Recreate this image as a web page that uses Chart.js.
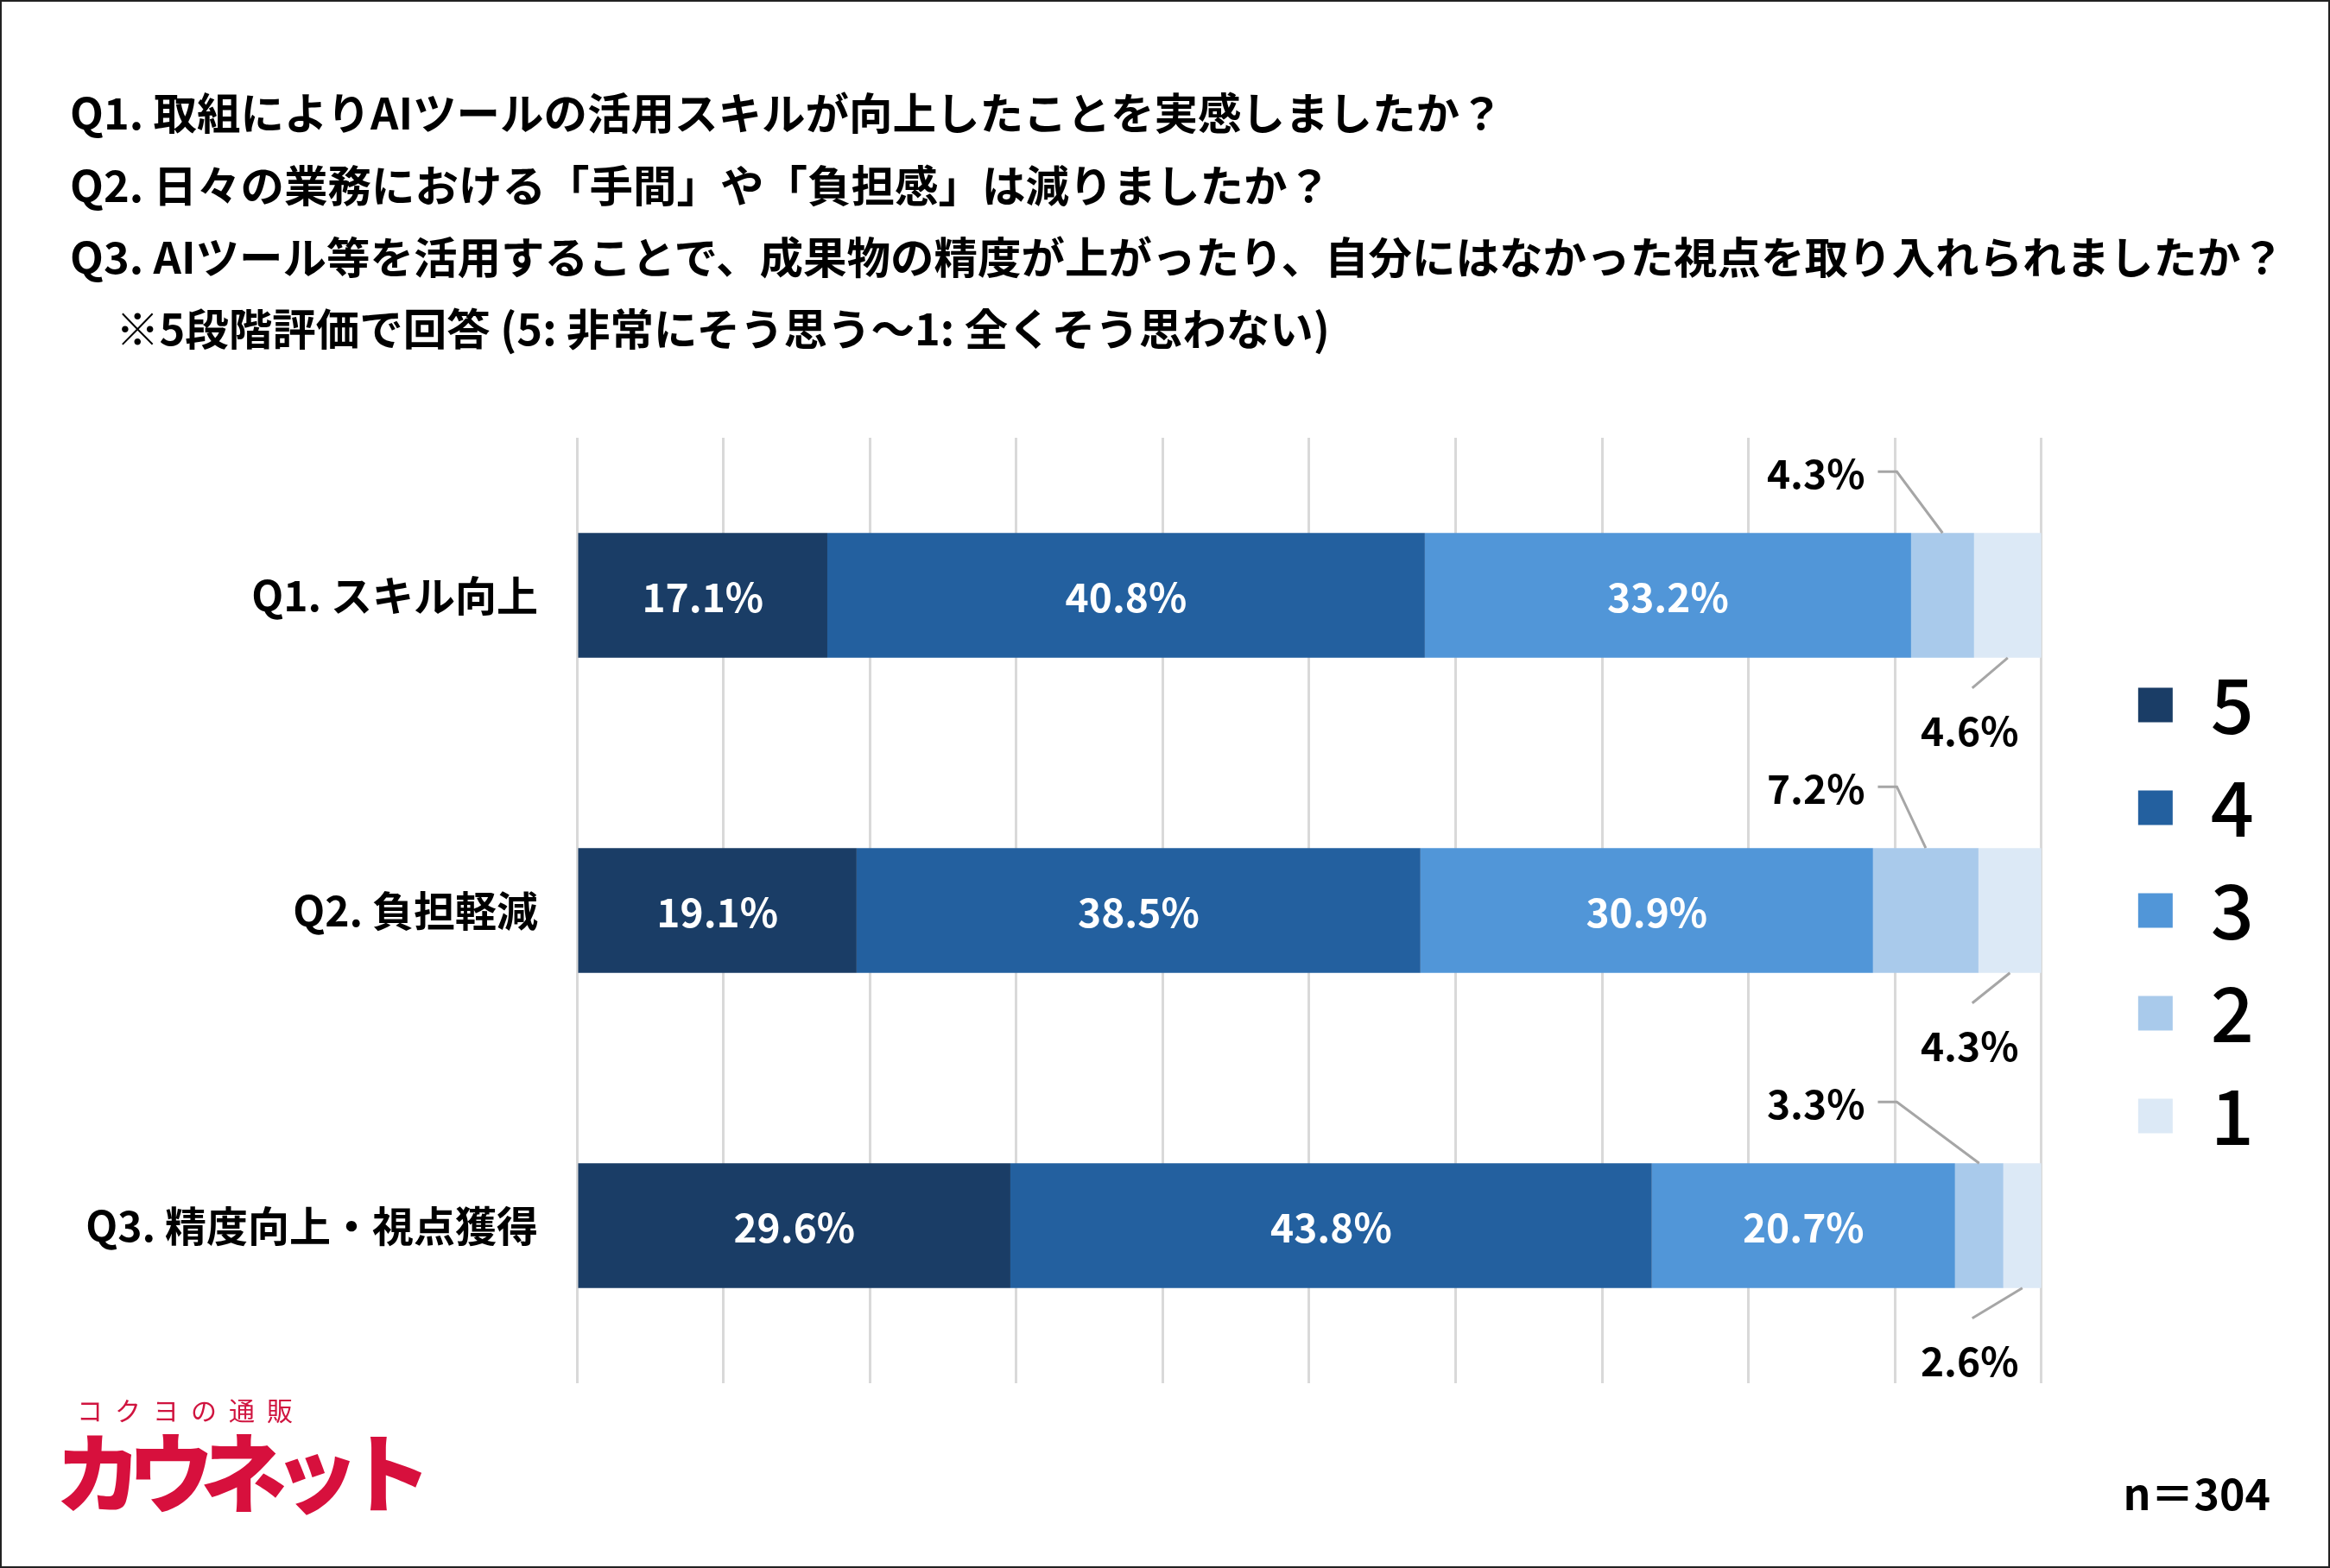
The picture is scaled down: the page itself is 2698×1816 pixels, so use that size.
<!DOCTYPE html>
<html><head><meta charset="utf-8">
<script src="https://cdn.jsdelivr.net/npm/chart.js@4.4.1/dist/chart.umd.min.js"></script>
<style>
html,body{margin:0;padding:0;background:#fff;}
#frame{position:relative;width:2698px;height:1816px;overflow:hidden;background:#fff;font-family:"Noto Sans CJK JP","Noto Sans",sans-serif;}
#c{position:absolute;left:0;top:0;}
.t{position:absolute;white-space:nowrap;font-weight:700;color:#000;font-size:50.5px;line-height:83.3px;}
#border{position:absolute;left:0;top:0;width:2698px;height:1816px;box-sizing:border-box;border:2px solid #222;pointer-events:none;}
</style></head><body>
<div id="frame">
  <div class="t" style="left:81px;top:87px;">Q1. 取組によりAIツールの活用スキルが向上したことを実感しましたか？</div>
  <div class="t" style="left:81px;top:171px;">Q2. 日々の業務における「手間」や「負担感」は減りましたか？</div>
  <div class="t" style="left:81px;top:254px;">Q3. AIツール等を活用することで、成果物の精度が上がったり、自分にはなかった視点を取り入れられましたか？</div>
  <div class="t" style="left:134px;top:337px;">※5段階評価で回答 (5: 非常にそう思う～1: 全くそう思わない)</div>
  <canvas id="c" width="2698" height="1816" style="width:2698px;height:1816px"></canvas>
  <div style="position:absolute;left:89px;top:1610px;font-size:30px;font-weight:400;letter-spacing:14px;color:#d0143f;white-space:nowrap;line-height:44px;">コクヨの通販</div>
  <div style="position:absolute;left:64px;top:1636px;font-size:100px;font-weight:900;letter-spacing:-16px;color:#d7103d;white-space:nowrap;line-height:130px;">カウネット</div>
  <div class="t" style="right:69px;left:auto;top:1685px;font-size:50px;line-height:84px;">n＝304</div>
  <div id="border"></div>
</div>
<script>
const categories = ['Q1. スキル向上', 'Q2. 負担軽減', 'Q3. 精度向上・視点獲得'];
const seriesLabels = ['5', '4', '3', '2', '1'];
const values5 = [17.1, 19.1, 29.6];
const values4 = [40.8, 38.5, 43.8];
const values3 = [33.2, 30.9, 20.7];
const values2 = [4.3, 7.2, 3.3];
const values1 = [4.6, 4.3, 2.6];
const seriesColors = ['#1a3d66', '#23609f', '#5196d8', '#a9caeb', '#dce9f6'];
const xMin = 0, xMax = 100, xStep = 10;

const FONT = '"Noto Sans CJK JP","Noto Sans",sans-serif';
const seriesValues = [values5, values4, values3, values2, values1];

const segLabels = {
  id: 'segLabels',
  afterDatasetsDraw(chart) {
    const ctx = chart.ctx;
    const xs = chart.scales.x;
    ctx.save();
    ctx.font = '700 46px ' + FONT;
    ctx.textBaseline = 'middle';
    chart.data.datasets.forEach((ds, di) => {
      const meta = chart.getDatasetMeta(di);
      meta.data.forEach((bar, i) => {
        const v = ds.data[i];
        const txt = v.toFixed(1) + '%';
        const p = bar.getProps(['x', 'y', 'base', 'height'], true);
        const cx = (p.x + p.base) / 2;
        const top = p.y - p.height / 2;
        const bottom = p.y + p.height / 2;
        if (di < 3) {
          ctx.fillStyle = '#ffffff';
          ctx.textAlign = 'center';
          ctx.fillText(txt, cx, p.y + 2);
        } else if (di === 3) {
          const lx = xs.getPixelForValue(84.6);
          const ly = top - 71;
          ctx.fillStyle = '#000';
          ctx.textAlign = 'center';
          ctx.fillText(txt, lx, ly + 2);
          const w = ctx.measureText(txt).width;
          ctx.strokeStyle = '#a6a6a6';
          ctx.lineWidth = 3;
          ctx.beginPath();
          ctx.moveTo(lx + w / 2 + 15, ly);
          ctx.lineTo(lx + w / 2 + 37, ly);
          ctx.lineTo(cx, top);
          ctx.stroke();
        } else {
          const lx = xs.getPixelForValue(95.1);
          const ly = bottom + 83;
          ctx.fillStyle = '#000';
          ctx.textAlign = 'center';
          ctx.fillText(txt, lx, ly + 2);
          ctx.strokeStyle = '#a6a6a6';
          ctx.lineWidth = 3;
          ctx.beginPath();
          ctx.moveTo(cx, bottom);
          ctx.lineTo(lx + 3, bottom + 35);
          ctx.stroke();
        }
      });
    });
    ctx.restore();
  }
};

new Chart(document.getElementById('c'), {
  type: 'bar',
  data: {
    labels: categories,
    datasets: seriesLabels.map((lab, k) => ({
      label: lab,
      data: seriesValues[k],
      backgroundColor: seriesColors[k],
      borderWidth: 0,
      categoryPercentage: 0.8,
      barPercentage: 0.495
    }))
  },
  options: {
    indexAxis: 'y',
    responsive: false,
    animation: false,
    layout: { padding: { left: 0, top: 507, right: 78, bottom: 214 } },
    scales: {
      x: {
        type: 'linear', stacked: true, min: xMin, max: xMax,
        ticks: { display: false, stepSize: xStep },
        grid: { color: '#d9d9d9', lineWidth: 3, drawTicks: false },
        border: { display: false }
      },
      y: {
        type: 'category', stacked: true,
        grid: { display: false, drawTicks: false },
        border: { display: false },
        ticks: { color: '#000', padding: 45, font: { family: FONT, size: 48, weight: '700' } },
        afterFit(s) { s.width = 668; }
      },
      gap: {
        type: 'category', position: 'right', labels: [''],
        grid: { display: false, drawTicks: false },
        border: { display: false },
        ticks: { display: false },
        afterFit(s) { s.width = 81; }
      }
    },
    plugins: {
      tooltip: { enabled: false },
      legend: {
        position: 'right',
        align: 'center',
        labels: {
          color: '#000',
          boxWidth: 40,
          boxHeight: 40,
          padding: 31,
          font: { family: FONT, size: 88, weight: '500' }
        }
      }
    }
  },
  plugins: [segLabels]
});
</script>
</body></html>
